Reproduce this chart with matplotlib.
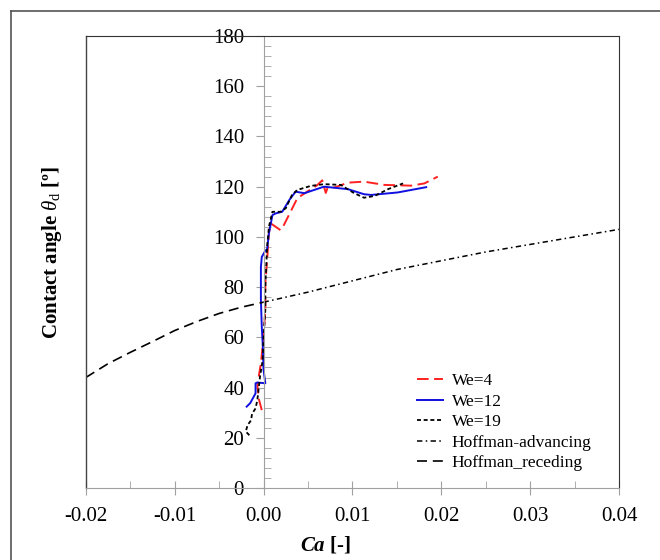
import matplotlib.pyplot as plt
from matplotlib.ticker import MultipleLocator, FormatStrFormatter
from matplotlib.lines import Line2D

plt.rcParams['font.family'] = ['Liberation Serif', 'DejaVu Serif']
plt.rcParams['mathtext.fontset'] = 'custom'
plt.rcParams['mathtext.rm'] = 'Liberation Serif'
plt.rcParams['mathtext.it'] = 'Liberation Serif:italic'
plt.rcParams['mathtext.bf'] = 'Liberation Serif:bold'
plt.rcParams['mathtext.bfit'] = 'Liberation Serif:italic:bold'

# We=4 (red dashed)
ca_we4 = [-0.0002, -0.0005, -0.0007, -0.0003, 0.0, 0.0002, 0.0002, 0.0004, 0.0006, 0.0008,
          0.0019, 0.0021, 0.0038, 0.0049, 0.0060, 0.0066, 0.0070, 0.0072, 0.0080, 0.0095,
          0.0113, 0.0136, 0.0166, 0.0181, 0.0196]
th_we4 = [31, 35, 41, 49.6, 60, 71, 81.5, 90.8, 101.4, 105.4,
          102.7, 103.4, 115.4, 118, 120.5, 122.5, 117.5, 119.5, 119.7, 121.6,
          122, 120.7, 120.4, 121.3, 124]

# We=12 (blue solid)
ca_we12 = [-0.0019, -0.0015, -0.0009, -0.0009, -0.0007, 0.0002, 0.0, -0.0001, -0.0002, -0.0003,
           -0.0003, -0.0003, -0.0002, 0.0002, 0.0004, 0.0006, 0.0010, 0.0014, 0.0021, 0.0029,
           0.0036, 0.0046, 0.0068, 0.0095, 0.0113, 0.0121, 0.0151, 0.0183]
th_we12 = [32.4, 33.8, 37.7, 41.7, 42, 41.7, 47, 57.6, 64.2, 74.9,
           82.8, 88, 92, 94.5, 95, 101.4, 108.7, 109.4, 110, 114.7,
           118, 117.4, 120, 119, 117, 116.7, 117.7, 119.8]

# We=19 (black dotted)
ca_we19 = [-0.0016, -0.0020, -0.0018, -0.0014, -0.0013, -0.0009, -0.0007, -0.0004, -0.0001, 0.0,
           0.0002, 0.0002, 0.0003, 0.0004, 0.0006, 0.0010, 0.0019, 0.0025, 0.0032, 0.0038,
           0.0053, 0.0068, 0.0087, 0.0102, 0.0113, 0.0125, 0.0140, 0.0157]
th_we19 = [21, 22.5, 25, 27, 29.5, 31.7, 35, 44.3, 51, 60,
           71, 80.2, 88, 96, 104, 110, 110, 111.4, 116.7, 118.7,
           120.3, 121, 120.7, 117.4, 115.6, 116.3, 119, 121.3]

# Hoffman curves
ca_adv = [0.0, 0.005, 0.01, 0.015, 0.02, 0.025, 0.03, 0.035, 0.04]
th_adv = [74, 78, 82.5, 87, 90.5, 94, 97, 100, 103]
ca_rec = [-0.02, -0.0175, -0.015, -0.0125, -0.01, -0.0075, -0.005, -0.0025, 0.0]
th_rec = [44, 49.5, 54, 58.3, 62.7, 66.3, 69.5, 72, 74]

fig = plt.figure(figsize=(6.6, 5.6), dpi=100)
ax = fig.add_axes([0.130, 0.1286, 0.808, 0.8071])

# outer frame (left and top visible)
fig.add_artist(Line2D([11 / 660, 11 / 660], [0, 1 - 11 / 560], color='#555555', lw=1.2))
fig.add_artist(Line2D([11 / 660, 1], [1 - 11 / 560, 1 - 11 / 560], color='#555555', lw=1.2))

ax.plot(ca_we4, th_we4, color='#ff2020', lw=1.4, dashes=(6, 2.8), label='We=4')
ax.plot(ca_we12, th_we12, color='#1010e0', lw=1.4, label='We=12')
ax.plot(ca_we19, th_we19, color='black', lw=1.3, dashes=(2.2, 1.5), label='We=19')
ax.plot(ca_adv, th_adv, color='black', lw=1.1, dashes=(3.5, 2.2, 1, 2.2), label='Hoffman-advancing')
ax.plot(ca_rec, th_rec, color='black', lw=1.2, dashes=(6, 3.5), label='Hoffman_receding')

ax.set_xlim(-0.02, 0.04)
ax.set_ylim(0, 180)

ax.spines['left'].set_position(('data', 0))
ax.spines['left'].set_color('#a0a0a0')
ax.spines['bottom'].set_color('#a0a0a0')
ax.spines['top'].set_color('#333333')
ax.spines['right'].set_color('#333333')
ax.axvline(-0.02, color='#444444', lw=1.0, clip_on=False)

ax.xaxis.set_major_locator(MultipleLocator(0.01))
ax.xaxis.set_minor_locator(MultipleLocator(0.005))
ax.xaxis.set_major_formatter(FormatStrFormatter('%.2f'))
ax.yaxis.set_major_locator(MultipleLocator(20))
ax.yaxis.set_minor_locator(MultipleLocator(4))

ax.tick_params(axis='x', which='major', direction='inout', length=10, color='#a0a0a0',
               labelsize=15, pad=9)
ax.tick_params(axis='x', which='minor', direction='in', length=5, color='#a0a0a0')
ax.tick_params(axis='y', which='major', direction='out', length=6, color='#a0a0a0',
               labelsize=15, pad=8)
ax.tick_params(axis='y', which='minor', direction='in', length=5, color='#a0a0a0')

ax.set_ylabel(r'Contact angle $\theta_\mathrm{d}$ [º]', fontsize=15, fontweight='bold')
ax.yaxis.set_label_coords(-0.040, 0.522)
ax.set_xlabel(r'$\mathbfit{Ca}$ [-]', fontsize=15, fontweight='bold')
ax.xaxis.set_label_coords(0.45, -0.102)

ax.legend(loc='upper left', bbox_to_anchor=(0.621, 0.254), frameon=False, fontsize=12.5,
          handlelength=1.5, handletextpad=0.5, labelspacing=0.25, borderpad=0,
          borderaxespad=0)

fig.savefig('out.png', dpi=100)
